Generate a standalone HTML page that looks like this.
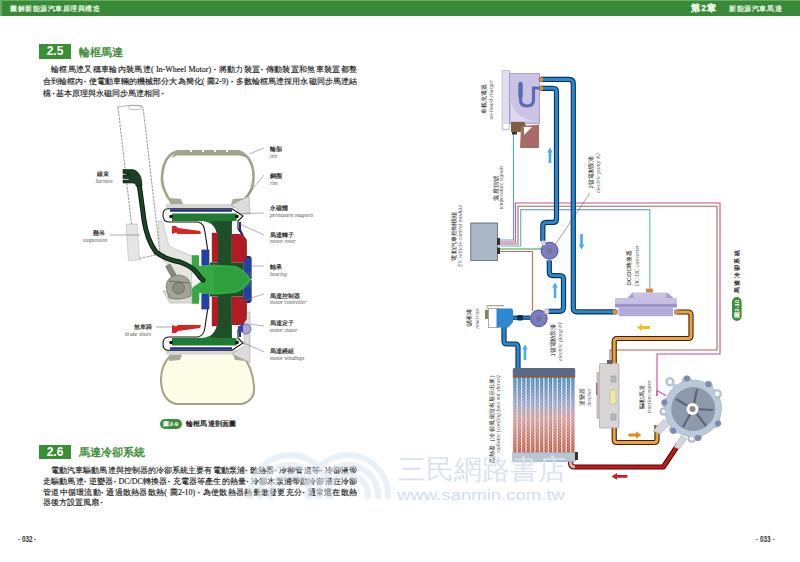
<!DOCTYPE html>
<html><head><meta charset="utf-8">
<style>
*{margin:0;padding:0;box-sizing:border-box}
html,body{width:800px;height:562px;overflow:hidden;background:#fff}
body{position:relative;font-family:"Liberation Serif",serif;color:#2a2a2a}
.abs{position:absolute;white-space:nowrap;z-index:5}
.hdr{position:absolute;left:0;top:0;width:800px;height:16.2px;background:#388a38;border-top:1px solid #6aaa68;border-left:2px solid #6aaa68}
.hl{font-family:"Liberation Sans",sans-serif;font-weight:bold;color:#e6f6e2;font-size:7.5px;letter-spacing:0.3px}
.secbox{position:absolute;background:#3a8e36;color:#fff;font-family:"Liberation Sans",sans-serif;font-weight:bold;font-size:12px;text-align:center;line-height:15px}
.sect{position:absolute;font-family:"Liberation Sans",sans-serif;font-weight:bold;color:#3f8e3a;font-size:11px;letter-spacing:0.1px;line-height:14px}
.ln{position:absolute;z-index:5;font-size:8px;line-height:10px;height:10px;text-align:justify;text-align-last:justify;white-space:nowrap;color:#1a1a1a;-webkit-text-stroke:0.15px #1a1a1a}
.pg{position:absolute;font-family:"Liberation Sans",sans-serif;font-weight:bold;font-size:7px;line-height:10px;color:#333;transform:scaleX(0.75);transform-origin:left top;z-index:5}
svg{position:absolute;left:0;top:0}
.pd{font-style:normal;display:inline-block;width:5px;text-align:center;font-weight:bold}
.pp{font-style:normal;display:inline-block;width:5px;text-align:center}
.lab{position:absolute;white-space:nowrap;font-family:"Liberation Sans",sans-serif;font-weight:bold;font-size:5.5px;line-height:6px;color:#333}
.len{position:absolute;white-space:nowrap;font-family:"Liberation Serif",serif;font-style:italic;font-size:5.5px;line-height:6px;color:#555}

</style></head>
<body>
<div class="hdr"></div>
<div class="abs hl" style="left:10px;top:4px;font-size:7px;letter-spacing:0.55px">圖解新能源汽車原理與構造</div>
<div class="abs hl" style="left:691px;top:3px;font-size:8.6px;letter-spacing:1.2px;-webkit-text-stroke:0.3px #e6f6e2">第2章</div>
<div class="abs hl" style="left:729px;top:4px;font-size:7.2px;letter-spacing:0.6px">新能源汽車馬達</div>

<div class="secbox" style="left:39px;top:44px;width:32px;height:15px">2.5</div>
<div class="sect" style="left:79px;top:45px">輪框馬達</div>

<div class="ln" style="left:51px;top:65px;width:306px">輪框馬達又稱車輪內裝馬達<i class="pp">(</i>In-Wheel Motor<i class="pp">)</i><i class="pd">·</i>將動力裝置<i class="pd">·</i>傳動裝置和煞車裝置都整</div>
<div class="ln" style="left:43px;top:77px;width:314px">合到輪框內<i class="pd">·</i>使電動車輛的機械部分大為簡化<i class="pp">(</i>圖2-9<i class="pp">)</i><i class="pd">·</i>多數輪框馬達採用永磁同步馬達結</div>
<div class="abs" style="left:43px;top:89px;font-size:8px;line-height:10px;color:#1a1a1a;-webkit-text-stroke:0.15px #1a1a1a">構<i class="pd">·</i>基本原理與永磁同步馬達相同<i class="pd">·</i></div>

<div class="secbox" style="left:39px;top:445px;width:32px;height:14px">2.6</div>
<div class="sect" style="left:79px;top:445px">馬達冷卻系統</div>

<div class="ln" style="left:51px;top:466px;width:306px">電動汽車驅動馬達與控制器的冷卻系統主要有電動泵浦<i class="pd">·</i>散熱器<i class="pd">·</i>冷卻管道等<i class="pd">·</i>冷卻液帶</div>
<div class="ln" style="left:43px;top:477px;width:314px">走驅動馬達<i class="pd">·</i>逆變器<i class="pd">·</i>DC/DC轉換器<i class="pd">·</i>充電器等產生的熱量<i class="pd">·</i>冷卻水泵浦帶動冷卻液在冷卻</div>
<div class="ln" style="left:43px;top:488px;width:314px">管道中循環流動<i class="pd">·</i>通過散熱器散熱<i class="pp">(</i>圖2-10<i class="pp">)</i><i class="pd">·</i>為使散熱器熱量散發更充分<i class="pd">·</i>通常還在散熱</div>
<div class="abs" style="left:43px;top:498px;font-size:8px;line-height:10px;color:#1a1a1a;-webkit-text-stroke:0.15px #1a1a1a">器後方設置風扇<i class="pd">·</i></div>

<div class="pg" style="left:17.5px;top:534px">-</div><div class="pg" style="left:22px;top:534px;font-size:8.5px">032</div><div class="pg" style="left:34px;top:534px">-</div>
<div class="pg" style="left:756px;top:534px">-</div><div class="pg" style="left:760px;top:534px;font-size:8.5px">033</div><div class="pg" style="left:772.5px;top:534px">-</div>

<svg width="800" height="562" viewBox="0 0 800 562" style="position:absolute;left:0;top:0">
<!-- strut -->
<g fill="none" stroke="#8a8a80" stroke-width="0.9" stroke-dasharray="2.5,1">
<path d="M118,107 L135.6,259.4 L160,254 L143,107"/>
</g>
<ellipse cx="135" cy="107.5" rx="7" ry="2.2" fill="#fff" stroke="#9a9a90" stroke-width="0.7"/>
<path d="M117,107 Q130,104 143,106" fill="none" stroke="#9a9a90" stroke-width="0.7"/>
<polygon points="126,224 137,224 139.5,260 128.5,260.5" fill="#e6e6e2" stroke="#aaa" stroke-width="0.5"/>
<polygon points="158,221 162.5,221 169,246 196,258 200,300 188,301 182,282 165,262 160,254" fill="#e4e4e0" stroke="#aaa" stroke-width="0.5"/>
<!-- leader lines left -->
<g stroke="#555" stroke-width="0.5">
<line x1="110" y1="235" x2="140" y2="235"/>
<line x1="156" y1="327" x2="176" y2="327"/>
</g>
<!-- upper tire -->
<path d="M172,203 C166,196 160,184 162.5,172 C164,160 170,153 177,151.5 L239,151.5 C247,154 253,162 253.5,175 C254,186 250,196 240,203" fill="#fff" stroke="#a2a48a" stroke-width="2.6"/>
<path d="M171,158 L177,150 L239,150 L247,158 L240,155.5 L177,155.5Z" fill="#a2a48a"/>
<g fill="#fff"><rect x="190" y="149" width="2" height="3"/><rect x="202" y="149" width="2" height="3"/><rect x="214" y="149" width="2" height="3"/><rect x="226" y="149" width="2" height="3"/></g>
<path d="M169,198 L181,199 L183,204 L170,204Z M233,199 L246,198 L247,204 L231,204Z" fill="#a8a896"/>
<!-- lower tire -->
<path d="M171,355 C162,364 160,376 161.5,386 C163,396 168,402 176,404 L242,404 C250,402 255,396 254,386 C253,374 250,364 242,355 Z" fill="#fdfce6"/>
<path d="M171,355 C162,364 160,376 161.5,386 C163,396 168,402 176,404 L242,404 C250,402 255,396 254,386 C253,374 250,364 242,355" fill="none" stroke="#a2a48a" stroke-width="2"/>
<path d="M169,354.5 L182,354.5 L180,360 L169,361Z M233,354.5 L245,354.5 L246,361 L235,360Z" fill="#a8a896"/>
<!-- rim plates -->
<rect x="166" y="204" width="80" height="4" fill="#d6d6d2"/>
<rect x="166" y="350" width="80" height="4.5" fill="#d6d6d2"/>
<path d="M231,205 L249,196 L250,214 L240,214 L236,208Z" fill="#dcdcdc" stroke="#9a9a9a" stroke-width="0.5"/>
<path d="M244,312 L250,312 L250,362.5 L232,354 L238,350 L244,346Z" fill="#dcdcdc" stroke="#9a9a9a" stroke-width="0.5"/>
<path d="M243.5,256 L250.5,256 L250.5,303 L243.5,303Z" fill="#2a4aa8"/>
<!-- motor upper half -->
<g id="mh">
<path d="M232,208.8 L168,208.8 Q163,208.8 163,215 Q163,222 169,222 L198,222 Q204,223 205,232 L208,252 L204,266" fill="none" stroke="#111" stroke-width="1.1"/>
<path d="M232,208.8 L243,216 L238,221 L238,229 L246,240 L246,256 L251,258 L251,279" fill="none" stroke="#111" stroke-width="1.1"/>
<path d="M170,210.5 L232,210.5" stroke="#1f2a8c" stroke-width="2.5"/>
<path d="M240,222 L240,230 L243,236" stroke="#1f2a8c" stroke-width="2" fill="none"/>
<path d="M172,213.6 L236.6,213.6 L236.6,220.8 L232,221 L231.6,266 L218,266 L218,238 Q216,222 202,221 L172,221 Z" fill="#1f7a32"/>
<path d="M218,221 L231.6,221 L231.6,266 L218,266 L218,238 Q216,226 210,222Z" fill="#1f4f28"/>
<circle cx="171" cy="216.5" r="1.8" fill="#111"/><circle cx="237" cy="216.5" r="1.8" fill="#111"/>
<path d="M211.8,232.8 L218,232.8 L218,262.4 L211.8,262.4Z" fill="#b01c22"/>
<path d="M231.6,234 L240,234 Q246.7,236 246.7,246 L246.7,262.4 L231.6,262.4Z" fill="#b01c22"/>
<path d="M172,226 L176,226 L178,228 L200,231 L201,234 L178,234 L176,232.5 L172,234 Z" fill="#d82424"/>
<path d="M201.4,249.6 L209.4,249.6 L209.4,265.6 L201.4,265.6Z" fill="#2040a8"/>
<path d="M243.8,259.2 L251,259.2 L251,272 L243.8,272Z" fill="#2040a8"/>
<path d="M210,262.5 L243.6,262.5 L243.6,270 L210,270Z" fill="#1f4f28"/>
</g>
<use href="#mh" transform="translate(0,559) scale(1,-1)"/>
<!-- hub -->
<path d="M191.8,255.2 L199,255.2 L199,266 L214,264.5 L236,266 Q246,270 251,279.5 Q246,289 236,293 L214,294.7 L199,293 L199,303.8 L191.8,303.8 Z" fill="#34a843"/><path d="M214,267 L236,268 Q244,272 248,279.5 Q244,287 236,291 L214,292Z" fill="#2a9a3a" opacity="0.6"/><path d="M192,272 L203,280 L192,288Z" fill="#f4f4f0"/>

<!-- motor stator small -->
<ellipse cx="246" cy="329" rx="5" ry="5" fill="#a8a6d4" stroke="#3a3a7a" stroke-width="0.6"/><rect x="238" y="326" width="5" height="6" fill="#2a4aa8"/>
<!-- harness -->
<path d="M129,174 Q138,176 140,190 Q142,205 144,220 Q147,240 156,252 Q164,259 180,262 Q193,267 197,273 Q200,278 203,280" fill="none" stroke="#0b170e" stroke-width="5" stroke-linecap="round"/>
<path d="M129,174 Q138,176 140,190 Q142,205 144,220 Q147,240 156,252 Q164,259 180,262 Q193,267 197,273 Q200,278 203,280" fill="none" stroke="#1d4628" stroke-width="3" stroke-linecap="round"/>
<path d="M123,169.5 L133,169.5 Q142,172 142,186 L136,186 Q136,183 133,183 L123,183 L123,180 L129,180 L129,178.5 L123,178.5 L123,175 L129,175 L129,173.5 L123,173.5Z" fill="#1a3f24" stroke="#0b170e" stroke-width="0.6"/>
<!-- ball joint -->
<path d="M163,291 L192,291 L192,303 L170,303Z" fill="#dddcd4" stroke="#999" stroke-width="0.5"/>
<path d="M165.5,266.5 L170,264 L176,274.5 L171.5,277Z" fill="#8a8a80" stroke="#555" stroke-width="0.5"/>
<path d="M166,287 Q167,275 179,275 Q190,276 191,287 L191,296 Q180,301 169,298 Z" fill="#a3a398" stroke="#5a5a52" stroke-width="0.6"/>
<circle cx="178.5" cy="288" r="6" fill="#8c8c84" stroke="#55554e" stroke-width="0.6"/>
<path d="M169,281 L189,283" stroke="#55554e" stroke-width="0.7"/>
<!-- leader lines right -->
<g stroke="#666" stroke-width="0.5" fill="none">
<line x1="249" y1="154" x2="264" y2="148"/>
<line x1="246" y1="197" x2="264" y2="175"/>
<line x1="241" y1="213.5" x2="264" y2="213"/>
<line x1="240" y1="224" x2="264" y2="235"/>
<line x1="250" y1="266" x2="264" y2="266"/>
<line x1="238" y1="302" x2="264" y2="294"/>
<line x1="250" y1="324" x2="264" y2="326"/>
<line x1="237" y1="340" x2="264" y2="352"/>
</g>
</svg>
<div class="lab" style="left:97px;top:170.5px">線束</div><div class="len" style="left:95.5px;top:177.5px">harness</div>
<div class="lab" style="left:93px;top:230px">懸吊</div><div class="len" style="left:83px;top:237px">suspension</div>
<div class="lab" style="left:134px;top:324px">煞車蹄</div><div class="len" style="left:125px;top:330.5px">brake shoes</div>
<div class="lab" style="left:270px;top:146px">輪胎</div><div class="len" style="left:270px;top:152.5px">tire</div>
<div class="lab" style="left:270px;top:173px">鋼圈</div><div class="len" style="left:270px;top:180px">rim</div>
<div class="lab" style="left:270px;top:205px">永磁體</div><div class="len" style="left:270px;top:212px">permanent magnets</div>
<div class="lab" style="left:270px;top:231.5px">馬達轉子</div><div class="len" style="left:270px;top:238px">motor rotor</div>
<div class="lab" style="left:270px;top:264px">軸承</div><div class="len" style="left:270px;top:271px">bearing</div>
<div class="lab" style="left:270px;top:292.5px">馬達控制器</div><div class="len" style="left:270px;top:298.5px">motor controller</div>
<div class="lab" style="left:270px;top:320px">馬達定子</div><div class="len" style="left:270px;top:326.5px">motor stator</div>
<div class="lab" style="left:270px;top:348px">馬達繞組</div><div class="len" style="left:270px;top:355px">motor windings</div>
<div class="abs" style="left:159.5px;top:419px;width:22.5px;height:10px;border-radius:5px;background:#3c8f3c;color:#fff;font-family:'Liberation Sans',sans-serif;font-weight:bold;font-size:6px;line-height:10px;text-align:center">圖2-9</div>
<div class="abs" style="left:186px;top:419px;font-family:'Liberation Sans',sans-serif;font-weight:bold;font-size:7px;line-height:10px;color:#222;letter-spacing:0.2px">輪框馬達剖面圖</div>
<svg width="800" height="562" viewBox="0 0 800 562" style="position:absolute;left:0;top:0">
<!-- signal lines -->
<g fill="none" stroke-width="1.1">
<path d="M513.5,132 L513.5,240 L499,240" stroke="#4aa6e0"/>
<path d="M499,242 L515.4,242 L515.4,203 L720,203 L720,354 L657,354 L657,396" stroke="#d24a92"/>
<path d="M499,244 L518,244 L518,206.2 L717,206.2 L717,350 L610,350 L610,363" stroke="#a86a5a"/>
<path d="M499,246 L520.7,246 L520.7,209.6 L649.8,209.6 L649.8,290" stroke="#5ab8c0"/>
<path d="M499,249 L541,249" stroke="#3a9a4a"/>
<path d="M499,251.5 L532.5,251.5 L532.5,311" stroke="#c86650"/>
</g>
<!-- module -->
<rect x="470.8" y="223" width="26.6" height="37.5" fill="#a9b6c6" stroke="#56606c" stroke-width="0.8"/>
<rect x="497" y="238" width="3" height="7" fill="#333"/><rect x="497" y="247.5" width="3" height="6.5" fill="#333"/>
<!-- blue pipes -->
<g fill="none" stroke-linejoin="round">
<g stroke="#0b2f58" stroke-width="5.2">
<path d="M541,79.4 L569,79.4 Q573.3,79.4 573.3,84 L573.3,308 Q573.3,311.8 577,311.8 L616,311.8"/>
<path d="M541,88.3 L553,88.3 Q556.5,88.3 556.5,92 L556.5,219 Q556.5,222.4 553,222.4 L546.5,222.4 Q542.8,222.4 542.8,226 L542.8,241"/>
<path d="M549.3,260.5 L549.3,272 Q549.3,275.6 553,275.6 L559.8,275.6 Q563.5,275.6 563.5,279 L563.5,307.5 Q563.5,311.3 559.5,311.3 L548,311.3"/>

<path d="M504,326 L504,341 Q504,344 507,344 L515,344 Q518,344 518,347 L518,369"/>
</g>
<g stroke="#2a88cc" stroke-width="3">
<path d="M541,79.4 L569,79.4 Q573.3,79.4 573.3,84 L573.3,308 Q573.3,311.8 577,311.8 L616,311.8"/>
<path d="M541,88.3 L553,88.3 Q556.5,88.3 556.5,92 L556.5,219 Q556.5,222.4 553,222.4 L546.5,222.4 Q542.8,222.4 542.8,226 L542.8,241"/>
<path d="M549.3,260.5 L549.3,272 Q549.3,275.6 553,275.6 L559.8,275.6 Q563.5,275.6 563.5,279 L563.5,307.5 Q563.5,311.3 559.5,311.3 L548,311.3"/>

<path d="M504,326 L504,341 Q504,344 507,344 L515,344 Q518,344 518,347 L518,369"/>
</g>
<!-- orange pipes -->
<g stroke="#3a2208" stroke-width="5.2">
<path d="M676,312 L688,312 Q691,312 691,315 L691,335.5 Q691,338.5 688,338.5 L617,338.5 Q614.2,338.5 614.2,341.5 L614.2,363"/>
<path d="M614.2,427 L614.2,439.5 Q614.2,442.5 617,442.5 L654,442.5 Q657,442.5 657,439.5 L657,425"/>
</g>
<g stroke="#f0a040" stroke-width="3">
<path d="M676,312 L688,312 Q691,312 691,315 L691,335.5 Q691,338.5 688,338.5 L617,338.5 Q614.2,338.5 614.2,341.5 L614.2,363"/>
<path d="M614.2,427 L614.2,439.5 Q614.2,442.5 617,442.5 L654,442.5 Q657,442.5 657,439.5 L657,425"/>
</g>
<!-- red pipe -->
<path d="M570.6,456 L570.6,463 Q570.6,467 574.5,467 L663.3,467 L678,445" stroke="#4a0808" stroke-width="5.2"/>
<path d="M575,467 L663.3,467 L678,445" stroke="#c41a1a" stroke-width="3"/>
<path d="M570.6,455 L570.6,463 Q570.6,467 575,467" stroke="#e8a8a8" stroke-width="3.2"/>
</g>
<!-- arrows -->
<g fill="#46aee8"><path d="M548.7,163 L548.7,152.5 L547.2,152.5 L550,147.5 L552.8,152.5 L551.3,152.5 L551.3,163Z"/><path d="M580.2,234 L580.2,244.5 L578.7,244.5 L581.5,249.5 L584.3,244.5 L582.8,244.5 L582.8,234Z"/><path d="M553.7,298 L553.7,287.5 L552.2,287.5 L555,282.5 L557.8,287.5 L556.3,287.5 L556.3,298Z"/><path d="M523.7,360 L523.7,349.5 L522.2,349.5 L525,344.5 L527.8,349.5 L526.3,349.5 L526.3,360Z"/></g>
<path d="M650,326 L642,326 L642,324 L637,327.5 L642,331 L642,329 L650,329Z" fill="#f2c21a"/>
<path d="M628.5,433.5 L636,433.5 L636,431.5 L641.5,435 L636,438.5 L636,436.5 L628.5,436.5Z" fill="#f0821a"/>
<path d="M627.4,475 L617,475 L617,473 L611.5,476.4 L617,479.8 L617,477.8 L627.4,477.8Z" fill="#d41a1a"/>
<!-- charger -->
<rect x="502" y="70.3" width="7.5" height="59.7" fill="#e2dcef" stroke="#b4aacd" stroke-width="0.6"/>
<rect x="503.5" y="124" width="5" height="4.5" fill="#fff"/>
<rect x="509.5" y="73.5" width="30" height="50.2" fill="#cbc3e4" stroke="#9c92c4" stroke-width="0.8"/>
<path d="M511,100 Q514,118 535,121 L511,121Z" fill="#ddd8ee"/>
<path d="M520.5,86 L520.5,100 Q520.5,106 527,106 Q533.5,106 533.5,100 L533.5,88 L538,88" fill="none" stroke="#5a6ab6" stroke-width="3.2" stroke-linecap="round"/>
<path d="M520.5,84 L520.5,96" stroke="#5a6ab6" stroke-width="4.4" stroke-linecap="round"/>
<path d="M511,122 L524,122 Q526,124 526,128 L524,132 L511,132 Z" fill="#7e6040"/>
<rect x="512" y="132" width="5" height="2.5" fill="#333"/>
<path d="M521,126 L539,124.7 L539,148 L520,148Z" fill="#a96b66"/>
<path d="M524,135 L532,127 L524,127Z" fill="#fff"/>
<circle cx="541.5" cy="79.4" r="2.4" fill="#c8925a" stroke="#5a3a1a" stroke-width="0.5"/><circle cx="541.5" cy="88.3" r="2.4" fill="#c8925a" stroke="#5a3a1a" stroke-width="0.5"/>
<!-- pumps -->
<g stroke="#3c3f7a" stroke-width="0.8">
<circle cx="549.6" cy="250.7" r="8.5" fill="#7c7cc0"/>
<circle cx="538.8" cy="318.4" r="8.4" fill="#7c7cc0"/>
</g>
<circle cx="549.6" cy="250.7" r="2.2" fill="#9a9aa8" stroke="#555" stroke-width="0.6"/><circle cx="549.6" cy="250.7" r="0.8" fill="#222"/>
<circle cx="538.8" cy="318.4" r="2.2" fill="#9a9aa8" stroke="#555" stroke-width="0.6"/><circle cx="538.8" cy="318.4" r="0.8" fill="#222"/>
<path d="M541,240.5 L545,240.5 L546,245 L543,246Z" fill="#dcd6ee" stroke="#777" stroke-width="0.4"/>
<path d="M545,309 L549,309 L549,313.5 L544,314Z" fill="#dcd6ee" stroke="#777" stroke-width="0.4"/>
<line x1="555" y1="245" x2="590" y2="193" stroke="#444" stroke-width="0.5"/>
<!-- reservoir -->
<rect x="488.4" y="308.5" width="10" height="19" fill="#fff" stroke="#8a8a80" stroke-width="0.7"/>
<path d="M496.5,308.5 L511,308.5 Q513.1,308.5 513.1,311 L513.1,322 L508.5,327.6 L496.5,327.6Z" fill="#2f86d2"/>
<path d="M487,305.7 L504,305.7" stroke="#9a8e70" stroke-width="1"/><path d="M487,305.7 L487,309" stroke="#9a8e70" stroke-width="0.8"/>
<rect x="485" y="310" width="3.2" height="9" fill="#8a8050"/>
<path d="M513,317.7 L530,317.7" stroke="#0b2f58" stroke-width="4.2"/>
<path d="M513,317.7 L530,317.7" stroke="#2a88cc" stroke-width="2"/>
<rect x="517" y="315" width="6" height="5.4" rx="1.5" fill="#0b2f58"/>
<!-- radiator -->
<rect x="512.8" y="377" width="62.4" height="75.5" fill="#fff"/>
<defs>
<linearGradient id="fin" x1="0" y1="0" x2="0" y2="1">
<stop offset="0" stop-color="#2a7ab8"/><stop offset="0.45" stop-color="#8a7aa0"/><stop offset="1" stop-color="#c8503a"/>
</linearGradient>
<pattern id="fins" x="512.8" y="0" width="4.45" height="562" patternUnits="userSpaceOnUse">
<rect x="0.6" y="0" width="2.6" height="562" fill="url(#fin)"/>
</pattern>
<linearGradient id="fin2" x1="0" y1="377" x2="0" y2="452.5" gradientUnits="userSpaceOnUse">
<stop offset="0" stop-color="#2f78b0"/><stop offset="0.35" stop-color="#8a98be"/><stop offset="0.55" stop-color="#cc9290"/><stop offset="1" stop-color="#b84830"/>
</linearGradient>
</defs>
<linearGradient id="bgfin" x1="0" y1="377" x2="0" y2="452.5" gradientUnits="userSpaceOnUse"><stop offset="0" stop-color="#dbe8f2"/><stop offset="0.5" stop-color="#ece4ea"/><stop offset="1" stop-color="#f2dcd4"/></linearGradient>
<rect x="512.8" y="377" width="62.4" height="75.5" fill="url(#bgfin)"/>
<g id="finsg" fill="url(#fin2)"><rect x="513.40" y="377" width="3" height="75.5"/><rect x="517.86" y="377" width="3" height="75.5"/><rect x="522.31" y="377" width="3" height="75.5"/><rect x="526.77" y="377" width="3" height="75.5"/><rect x="531.23" y="377" width="3" height="75.5"/><rect x="535.69" y="377" width="3" height="75.5"/><rect x="540.14" y="377" width="3" height="75.5"/><rect x="544.60" y="377" width="3" height="75.5"/><rect x="549.06" y="377" width="3" height="75.5"/><rect x="553.51" y="377" width="3" height="75.5"/><rect x="557.97" y="377" width="3" height="75.5"/><rect x="562.43" y="377" width="3" height="75.5"/><rect x="566.89" y="377" width="3" height="75.5"/><rect x="571.34" y="377" width="3" height="75.5"/></g><g fill="none" stroke="#fff" stroke-width="0.6" opacity="0.6"><path d="M513.90,377 L515.90,378.5 L513.90,380.0 L515.90,381.5 L513.90,383.0 L515.90,384.5 L513.90,386.0 L515.90,387.5 L513.90,389.0 L515.90,390.5 L513.90,392.0 L515.90,393.5 L513.90,395.0 L515.90,396.5 L513.90,398.0 L515.90,399.5 L513.90,401.0 L515.90,402.5 L513.90,404.0 L515.90,405.5 L513.90,407.0 L515.90,408.5 L513.90,410.0 L515.90,411.5 L513.90,413.0 L515.90,414.5 L513.90,416.0 L515.90,417.5 L513.90,419.0 L515.90,420.5 L513.90,422.0 L515.90,423.5 L513.90,425.0 L515.90,426.5 L513.90,428.0 L515.90,429.5 L513.90,431.0 L515.90,432.5 L513.90,434.0 L515.90,435.5 L513.90,437.0 L515.90,438.5 L513.90,440.0 L515.90,441.5 L513.90,443.0 L515.90,444.5 L513.90,446.0 L515.90,447.5 L513.90,449.0 L515.90,450.5 L513.90,452.0"/><path d="M518.36,377 L520.36,378.5 L518.36,380.0 L520.36,381.5 L518.36,383.0 L520.36,384.5 L518.36,386.0 L520.36,387.5 L518.36,389.0 L520.36,390.5 L518.36,392.0 L520.36,393.5 L518.36,395.0 L520.36,396.5 L518.36,398.0 L520.36,399.5 L518.36,401.0 L520.36,402.5 L518.36,404.0 L520.36,405.5 L518.36,407.0 L520.36,408.5 L518.36,410.0 L520.36,411.5 L518.36,413.0 L520.36,414.5 L518.36,416.0 L520.36,417.5 L518.36,419.0 L520.36,420.5 L518.36,422.0 L520.36,423.5 L518.36,425.0 L520.36,426.5 L518.36,428.0 L520.36,429.5 L518.36,431.0 L520.36,432.5 L518.36,434.0 L520.36,435.5 L518.36,437.0 L520.36,438.5 L518.36,440.0 L520.36,441.5 L518.36,443.0 L520.36,444.5 L518.36,446.0 L520.36,447.5 L518.36,449.0 L520.36,450.5 L518.36,452.0"/><path d="M522.81,377 L524.81,378.5 L522.81,380.0 L524.81,381.5 L522.81,383.0 L524.81,384.5 L522.81,386.0 L524.81,387.5 L522.81,389.0 L524.81,390.5 L522.81,392.0 L524.81,393.5 L522.81,395.0 L524.81,396.5 L522.81,398.0 L524.81,399.5 L522.81,401.0 L524.81,402.5 L522.81,404.0 L524.81,405.5 L522.81,407.0 L524.81,408.5 L522.81,410.0 L524.81,411.5 L522.81,413.0 L524.81,414.5 L522.81,416.0 L524.81,417.5 L522.81,419.0 L524.81,420.5 L522.81,422.0 L524.81,423.5 L522.81,425.0 L524.81,426.5 L522.81,428.0 L524.81,429.5 L522.81,431.0 L524.81,432.5 L522.81,434.0 L524.81,435.5 L522.81,437.0 L524.81,438.5 L522.81,440.0 L524.81,441.5 L522.81,443.0 L524.81,444.5 L522.81,446.0 L524.81,447.5 L522.81,449.0 L524.81,450.5 L522.81,452.0"/><path d="M527.27,377 L529.27,378.5 L527.27,380.0 L529.27,381.5 L527.27,383.0 L529.27,384.5 L527.27,386.0 L529.27,387.5 L527.27,389.0 L529.27,390.5 L527.27,392.0 L529.27,393.5 L527.27,395.0 L529.27,396.5 L527.27,398.0 L529.27,399.5 L527.27,401.0 L529.27,402.5 L527.27,404.0 L529.27,405.5 L527.27,407.0 L529.27,408.5 L527.27,410.0 L529.27,411.5 L527.27,413.0 L529.27,414.5 L527.27,416.0 L529.27,417.5 L527.27,419.0 L529.27,420.5 L527.27,422.0 L529.27,423.5 L527.27,425.0 L529.27,426.5 L527.27,428.0 L529.27,429.5 L527.27,431.0 L529.27,432.5 L527.27,434.0 L529.27,435.5 L527.27,437.0 L529.27,438.5 L527.27,440.0 L529.27,441.5 L527.27,443.0 L529.27,444.5 L527.27,446.0 L529.27,447.5 L527.27,449.0 L529.27,450.5 L527.27,452.0"/><path d="M531.73,377 L533.73,378.5 L531.73,380.0 L533.73,381.5 L531.73,383.0 L533.73,384.5 L531.73,386.0 L533.73,387.5 L531.73,389.0 L533.73,390.5 L531.73,392.0 L533.73,393.5 L531.73,395.0 L533.73,396.5 L531.73,398.0 L533.73,399.5 L531.73,401.0 L533.73,402.5 L531.73,404.0 L533.73,405.5 L531.73,407.0 L533.73,408.5 L531.73,410.0 L533.73,411.5 L531.73,413.0 L533.73,414.5 L531.73,416.0 L533.73,417.5 L531.73,419.0 L533.73,420.5 L531.73,422.0 L533.73,423.5 L531.73,425.0 L533.73,426.5 L531.73,428.0 L533.73,429.5 L531.73,431.0 L533.73,432.5 L531.73,434.0 L533.73,435.5 L531.73,437.0 L533.73,438.5 L531.73,440.0 L533.73,441.5 L531.73,443.0 L533.73,444.5 L531.73,446.0 L533.73,447.5 L531.73,449.0 L533.73,450.5 L531.73,452.0"/><path d="M536.19,377 L538.19,378.5 L536.19,380.0 L538.19,381.5 L536.19,383.0 L538.19,384.5 L536.19,386.0 L538.19,387.5 L536.19,389.0 L538.19,390.5 L536.19,392.0 L538.19,393.5 L536.19,395.0 L538.19,396.5 L536.19,398.0 L538.19,399.5 L536.19,401.0 L538.19,402.5 L536.19,404.0 L538.19,405.5 L536.19,407.0 L538.19,408.5 L536.19,410.0 L538.19,411.5 L536.19,413.0 L538.19,414.5 L536.19,416.0 L538.19,417.5 L536.19,419.0 L538.19,420.5 L536.19,422.0 L538.19,423.5 L536.19,425.0 L538.19,426.5 L536.19,428.0 L538.19,429.5 L536.19,431.0 L538.19,432.5 L536.19,434.0 L538.19,435.5 L536.19,437.0 L538.19,438.5 L536.19,440.0 L538.19,441.5 L536.19,443.0 L538.19,444.5 L536.19,446.0 L538.19,447.5 L536.19,449.0 L538.19,450.5 L536.19,452.0"/><path d="M540.64,377 L542.64,378.5 L540.64,380.0 L542.64,381.5 L540.64,383.0 L542.64,384.5 L540.64,386.0 L542.64,387.5 L540.64,389.0 L542.64,390.5 L540.64,392.0 L542.64,393.5 L540.64,395.0 L542.64,396.5 L540.64,398.0 L542.64,399.5 L540.64,401.0 L542.64,402.5 L540.64,404.0 L542.64,405.5 L540.64,407.0 L542.64,408.5 L540.64,410.0 L542.64,411.5 L540.64,413.0 L542.64,414.5 L540.64,416.0 L542.64,417.5 L540.64,419.0 L542.64,420.5 L540.64,422.0 L542.64,423.5 L540.64,425.0 L542.64,426.5 L540.64,428.0 L542.64,429.5 L540.64,431.0 L542.64,432.5 L540.64,434.0 L542.64,435.5 L540.64,437.0 L542.64,438.5 L540.64,440.0 L542.64,441.5 L540.64,443.0 L542.64,444.5 L540.64,446.0 L542.64,447.5 L540.64,449.0 L542.64,450.5 L540.64,452.0"/><path d="M545.10,377 L547.10,378.5 L545.10,380.0 L547.10,381.5 L545.10,383.0 L547.10,384.5 L545.10,386.0 L547.10,387.5 L545.10,389.0 L547.10,390.5 L545.10,392.0 L547.10,393.5 L545.10,395.0 L547.10,396.5 L545.10,398.0 L547.10,399.5 L545.10,401.0 L547.10,402.5 L545.10,404.0 L547.10,405.5 L545.10,407.0 L547.10,408.5 L545.10,410.0 L547.10,411.5 L545.10,413.0 L547.10,414.5 L545.10,416.0 L547.10,417.5 L545.10,419.0 L547.10,420.5 L545.10,422.0 L547.10,423.5 L545.10,425.0 L547.10,426.5 L545.10,428.0 L547.10,429.5 L545.10,431.0 L547.10,432.5 L545.10,434.0 L547.10,435.5 L545.10,437.0 L547.10,438.5 L545.10,440.0 L547.10,441.5 L545.10,443.0 L547.10,444.5 L545.10,446.0 L547.10,447.5 L545.10,449.0 L547.10,450.5 L545.10,452.0"/><path d="M549.56,377 L551.56,378.5 L549.56,380.0 L551.56,381.5 L549.56,383.0 L551.56,384.5 L549.56,386.0 L551.56,387.5 L549.56,389.0 L551.56,390.5 L549.56,392.0 L551.56,393.5 L549.56,395.0 L551.56,396.5 L549.56,398.0 L551.56,399.5 L549.56,401.0 L551.56,402.5 L549.56,404.0 L551.56,405.5 L549.56,407.0 L551.56,408.5 L549.56,410.0 L551.56,411.5 L549.56,413.0 L551.56,414.5 L549.56,416.0 L551.56,417.5 L549.56,419.0 L551.56,420.5 L549.56,422.0 L551.56,423.5 L549.56,425.0 L551.56,426.5 L549.56,428.0 L551.56,429.5 L549.56,431.0 L551.56,432.5 L549.56,434.0 L551.56,435.5 L549.56,437.0 L551.56,438.5 L549.56,440.0 L551.56,441.5 L549.56,443.0 L551.56,444.5 L549.56,446.0 L551.56,447.5 L549.56,449.0 L551.56,450.5 L549.56,452.0"/><path d="M554.01,377 L556.01,378.5 L554.01,380.0 L556.01,381.5 L554.01,383.0 L556.01,384.5 L554.01,386.0 L556.01,387.5 L554.01,389.0 L556.01,390.5 L554.01,392.0 L556.01,393.5 L554.01,395.0 L556.01,396.5 L554.01,398.0 L556.01,399.5 L554.01,401.0 L556.01,402.5 L554.01,404.0 L556.01,405.5 L554.01,407.0 L556.01,408.5 L554.01,410.0 L556.01,411.5 L554.01,413.0 L556.01,414.5 L554.01,416.0 L556.01,417.5 L554.01,419.0 L556.01,420.5 L554.01,422.0 L556.01,423.5 L554.01,425.0 L556.01,426.5 L554.01,428.0 L556.01,429.5 L554.01,431.0 L556.01,432.5 L554.01,434.0 L556.01,435.5 L554.01,437.0 L556.01,438.5 L554.01,440.0 L556.01,441.5 L554.01,443.0 L556.01,444.5 L554.01,446.0 L556.01,447.5 L554.01,449.0 L556.01,450.5 L554.01,452.0"/><path d="M558.47,377 L560.47,378.5 L558.47,380.0 L560.47,381.5 L558.47,383.0 L560.47,384.5 L558.47,386.0 L560.47,387.5 L558.47,389.0 L560.47,390.5 L558.47,392.0 L560.47,393.5 L558.47,395.0 L560.47,396.5 L558.47,398.0 L560.47,399.5 L558.47,401.0 L560.47,402.5 L558.47,404.0 L560.47,405.5 L558.47,407.0 L560.47,408.5 L558.47,410.0 L560.47,411.5 L558.47,413.0 L560.47,414.5 L558.47,416.0 L560.47,417.5 L558.47,419.0 L560.47,420.5 L558.47,422.0 L560.47,423.5 L558.47,425.0 L560.47,426.5 L558.47,428.0 L560.47,429.5 L558.47,431.0 L560.47,432.5 L558.47,434.0 L560.47,435.5 L558.47,437.0 L560.47,438.5 L558.47,440.0 L560.47,441.5 L558.47,443.0 L560.47,444.5 L558.47,446.0 L560.47,447.5 L558.47,449.0 L560.47,450.5 L558.47,452.0"/><path d="M562.93,377 L564.93,378.5 L562.93,380.0 L564.93,381.5 L562.93,383.0 L564.93,384.5 L562.93,386.0 L564.93,387.5 L562.93,389.0 L564.93,390.5 L562.93,392.0 L564.93,393.5 L562.93,395.0 L564.93,396.5 L562.93,398.0 L564.93,399.5 L562.93,401.0 L564.93,402.5 L562.93,404.0 L564.93,405.5 L562.93,407.0 L564.93,408.5 L562.93,410.0 L564.93,411.5 L562.93,413.0 L564.93,414.5 L562.93,416.0 L564.93,417.5 L562.93,419.0 L564.93,420.5 L562.93,422.0 L564.93,423.5 L562.93,425.0 L564.93,426.5 L562.93,428.0 L564.93,429.5 L562.93,431.0 L564.93,432.5 L562.93,434.0 L564.93,435.5 L562.93,437.0 L564.93,438.5 L562.93,440.0 L564.93,441.5 L562.93,443.0 L564.93,444.5 L562.93,446.0 L564.93,447.5 L562.93,449.0 L564.93,450.5 L562.93,452.0"/><path d="M567.39,377 L569.39,378.5 L567.39,380.0 L569.39,381.5 L567.39,383.0 L569.39,384.5 L567.39,386.0 L569.39,387.5 L567.39,389.0 L569.39,390.5 L567.39,392.0 L569.39,393.5 L567.39,395.0 L569.39,396.5 L567.39,398.0 L569.39,399.5 L567.39,401.0 L569.39,402.5 L567.39,404.0 L569.39,405.5 L567.39,407.0 L569.39,408.5 L567.39,410.0 L569.39,411.5 L567.39,413.0 L569.39,414.5 L567.39,416.0 L569.39,417.5 L567.39,419.0 L569.39,420.5 L567.39,422.0 L569.39,423.5 L567.39,425.0 L569.39,426.5 L567.39,428.0 L569.39,429.5 L567.39,431.0 L569.39,432.5 L567.39,434.0 L569.39,435.5 L567.39,437.0 L569.39,438.5 L567.39,440.0 L569.39,441.5 L567.39,443.0 L569.39,444.5 L567.39,446.0 L569.39,447.5 L567.39,449.0 L569.39,450.5 L567.39,452.0"/><path d="M571.84,377 L573.84,378.5 L571.84,380.0 L573.84,381.5 L571.84,383.0 L573.84,384.5 L571.84,386.0 L573.84,387.5 L571.84,389.0 L573.84,390.5 L571.84,392.0 L573.84,393.5 L571.84,395.0 L573.84,396.5 L571.84,398.0 L573.84,399.5 L571.84,401.0 L573.84,402.5 L571.84,404.0 L573.84,405.5 L571.84,407.0 L573.84,408.5 L571.84,410.0 L573.84,411.5 L571.84,413.0 L573.84,414.5 L571.84,416.0 L573.84,417.5 L571.84,419.0 L573.84,420.5 L571.84,422.0 L573.84,423.5 L571.84,425.0 L573.84,426.5 L571.84,428.0 L573.84,429.5 L571.84,431.0 L573.84,432.5 L571.84,434.0 L573.84,435.5 L571.84,437.0 L573.84,438.5 L571.84,440.0 L573.84,441.5 L571.84,443.0 L573.84,444.5 L571.84,446.0 L573.84,447.5 L571.84,449.0 L573.84,450.5 L571.84,452.0"/></g>
<rect x="512.8" y="368" width="62.4" height="9.3" fill="#5a6a82" rx="1.5"/>
<rect x="512.8" y="376" width="62.4" height="1.5" fill="#8a5a3a"/>
<rect x="512.8" y="452.5" width="62.4" height="9.2" fill="#b9c5d5" stroke="#8a96a8" stroke-width="0.5"/>
<rect x="575" y="452" width="3" height="8" fill="#333"/>
<!-- DC/DC -->
<path d="M626.9,298.8 L632.5,292.5 L666.9,292.5 L674.4,298.8Z" fill="#cac2e6"/>
<path d="M626.9,298.8 L632.5,292.5 L634,298.8Z M674.4,298.8 L666.9,292.5 L666,298.8Z" fill="#a89ed4"/>
<rect x="615" y="298" width="61.9" height="5.8" fill="#c8c0e4" rx="0.8"/>
<rect x="615" y="303.7" width="61.9" height="3.8" fill="#9c92c8"/>
<rect x="618.7" y="307.5" width="54.3" height="8.8" fill="#b2aad8"/>
<rect x="646" y="288.7" width="7" height="3.8" fill="#d8843a"/>
<rect x="613" y="309.5" width="5" height="5" fill="#c8925a"/><rect x="674" y="309.5" width="5" height="5" fill="#c8925a"/>
<!-- inverter -->
<rect x="599.5" y="363.5" width="19.5" height="64.5" fill="#d9d5d5" stroke="#9a9696" stroke-width="0.6" rx="1"/>
<rect x="596.5" y="372" width="3" height="47" fill="#c4bcbc"/>
<rect x="596" y="383" width="1.5" height="12" fill="#a06a9a"/>
<rect x="611" y="376" width="5" height="6" fill="#b8b8c8" stroke="#777" stroke-width="0.4"/>
<rect x="611" y="414" width="5" height="6" fill="#b8b8c8" stroke="#777" stroke-width="0.4"/>
<rect x="610" y="390" width="6" height="14" fill="#f2eaa0" stroke="#999" stroke-width="0.4"/>
<rect x="607" y="360" width="5" height="4" fill="#666"/>
<!-- motor -->
<path d="M653,431 L664,419 L670,424 L660,434Z" fill="#d2d6dc" stroke="#a0a4aa" stroke-width="0.5"/>
<path d="M674,447 L681,436 L687,439 L679,449Z" fill="#d2d6dc" stroke="#a0a4aa" stroke-width="0.5"/>
<g fill="#b9c9d9" stroke="#8c9cb0" stroke-width="0.5">
<circle cx="686.9" cy="380.6" r="4.5"/><circle cx="708" cy="386" r="4.5"/><circle cx="716" cy="423" r="4.5"/><circle cx="697.5" cy="436" r="4.5"/><circle cx="674" cy="429" r="4.5"/><circle cx="666.5" cy="403" r="4.5"/><circle cx="693" cy="408.5" r="28.5"/>
<circle cx="670" cy="381.8" r="4.2"/><circle cx="717.3" cy="393.8" r="4.2"/><circle cx="663.6" cy="411.5" r="3.8"/><circle cx="691.7" cy="438.7" r="3.8"/><path d="M670,382 L680,386 L676,392Z M717,394 L712,390 L713,400Z M664,411 L668,405 L668,416Z M692,438 L686,434 L697,434Z" stroke="none"/>
</g>
<g fill="#fff"><circle cx="670" cy="381.8" r="2.2"/><circle cx="717.3" cy="393.8" r="2.2"/><circle cx="663.6" cy="411.5" r="1.8"/><circle cx="691.7" cy="438.7" r="1.8"/></g>
<g fill="#7e86b2">
<circle cx="686.9" cy="378.6" r="3"/><circle cx="708.5" cy="384.2" r="3"/><circle cx="718" cy="423.5" r="3"/><circle cx="698" cy="437.9" r="3"/><circle cx="673.2" cy="430.7" r="3"/><circle cx="664.4" cy="402.6" r="3"/>
</g>
<path d="M656.7,396 L657,390.6 L666,395.4" fill="none" stroke="#d24a92" stroke-width="1.1"/>
<circle cx="693.2" cy="409" r="21.5" fill="#8e9aac" stroke="#7a8698" stroke-width="0.6"/>
<g stroke="#5c6676" stroke-width="2.2">
<line x1="693" y1="409" x2="697" y2="389"/><line x1="693" y1="409" x2="713" y2="410"/><line x1="693" y1="409" x2="706" y2="426"/><line x1="693" y1="409" x2="683" y2="427"/><line x1="693" y1="409" x2="676" y2="399"/>
</g>
<circle cx="692.5" cy="409" r="6" fill="#fff"/>
<circle cx="692.5" cy="409" r="3" fill="#8a8a8a"/>
<!-- figure label -->
<rect x="732" y="297" width="9.6" height="24" rx="4.8" fill="#3c8f3c"/>
<text transform="translate(485.5,99) rotate(-90)" text-anchor="middle" font-size="6" textLength="30" lengthAdjust="spacingAndGlyphs" font-family="Liberation Sans" fill="#151515">車載充電器</text>
<text transform="translate(492.5,99.8) rotate(-90)" text-anchor="middle" font-size="5.5" textLength="39.5" lengthAdjust="spacingAndGlyphs" font-family="Liberation Serif" font-style="italic" fill="#5a5a5a">on-board charger</text>
<text transform="translate(497.8,188) rotate(-90)" text-anchor="middle" font-size="6" textLength="25.6" lengthAdjust="spacingAndGlyphs" font-family="Liberation Sans" fill="#151515">溫度信號</text>
<text transform="translate(503.3,187.5) rotate(-90)" text-anchor="middle" font-size="5.5" textLength="43.7" lengthAdjust="spacingAndGlyphs" font-family="Liberation Serif" font-style="italic" fill="#5a5a5a">temperature signals</text>
<text transform="translate(455.5,236) rotate(-90)" text-anchor="middle" font-size="6" textLength="49" lengthAdjust="spacingAndGlyphs" font-family="Liberation Sans" fill="#151515">電動汽車控制模組</text>
<text transform="translate(461.8,236) rotate(-90)" text-anchor="middle" font-size="5.5" textLength="62" lengthAdjust="spacingAndGlyphs" font-family="Liberation Serif" font-style="italic" fill="#5a5a5a">EV vehicle control module</text>
<text transform="translate(593.2,172.1) rotate(-90)" text-anchor="middle" font-size="6" textLength="32.7" lengthAdjust="spacingAndGlyphs" font-family="Liberation Sans" fill="#151515">2號電動泵浦</text>
<text transform="translate(600,173) rotate(-90)" text-anchor="middle" font-size="5.5" textLength="40" lengthAdjust="spacingAndGlyphs" font-family="Liberation Serif" font-style="italic" fill="#5a5a5a">electric pump #2</text>
<text transform="translate(471.3,318.4) rotate(-90)" text-anchor="middle" font-size="6" textLength="18.2" lengthAdjust="spacingAndGlyphs" font-family="Liberation Sans" fill="#151515">儲液罐</text>
<text transform="translate(478.7,318.3) rotate(-90)" text-anchor="middle" font-size="5.5" textLength="20.7" lengthAdjust="spacingAndGlyphs" font-family="Liberation Serif" font-style="italic" fill="#5a5a5a">reservoir</text>
<text transform="translate(555,340.3) rotate(-90)" text-anchor="middle" font-size="6" textLength="32.5" lengthAdjust="spacingAndGlyphs" font-family="Liberation Sans" fill="#151515">1號電動泵浦</text>
<text transform="translate(562.3,341.4) rotate(-90)" text-anchor="middle" font-size="5.5" textLength="39" lengthAdjust="spacingAndGlyphs" font-family="Liberation Serif" font-style="italic" fill="#5a5a5a">electric pump #1</text>
<text transform="translate(493.5,417.2) rotate(-90)" text-anchor="middle" font-size="6" textLength="91.5" lengthAdjust="spacingAndGlyphs" font-family="Liberation Sans" fill="#151515">散熱器（冷卻風扇沒有展示出來）</text>
<text transform="translate(500.3,414) rotate(-90)" text-anchor="middle" font-size="5.5" textLength="77.5" lengthAdjust="spacingAndGlyphs" font-family="Liberation Serif" font-style="italic" fill="#5a5a5a">radiator (cooling fans not shown)</text>
<text transform="translate(630.8,268) rotate(-90)" text-anchor="middle" font-size="6" textLength="34.7" lengthAdjust="spacingAndGlyphs" font-family="Liberation Sans" fill="#151515">DC/DC轉換器</text>
<text transform="translate(638.5,265.5) rotate(-90)" text-anchor="middle" font-size="5.5" textLength="41.7" lengthAdjust="spacingAndGlyphs" font-family="Liberation Serif" font-style="italic" fill="#5a5a5a">DC/DC converter</text>
<text transform="translate(584,397) rotate(-90)" text-anchor="middle" font-size="6" textLength="17.5" lengthAdjust="spacingAndGlyphs" font-family="Liberation Sans" fill="#151515">逆變器</text>
<text transform="translate(590.5,397) rotate(-90)" text-anchor="middle" font-size="5.5" textLength="17.5" lengthAdjust="spacingAndGlyphs" font-family="Liberation Serif" font-style="italic" fill="#5a5a5a">inverter</text>
<text transform="translate(643.5,396.7) rotate(-90)" text-anchor="middle" font-size="6" textLength="24" lengthAdjust="spacingAndGlyphs" font-family="Liberation Sans" fill="#151515">驅動馬達</text>
<text transform="translate(651,396.6) rotate(-90)" text-anchor="middle" font-size="5.5" textLength="33" lengthAdjust="spacingAndGlyphs" font-family="Liberation Serif" font-style="italic" fill="#5a5a5a">traction motor</text>
<text transform="translate(739,271.6) rotate(-90)" text-anchor="middle" font-size="5.6" textLength="42.4" lengthAdjust="spacing" font-family="Liberation Sans" font-weight="bold" fill="#222">馬達冷卻系統</text>
<text transform="translate(739,309) rotate(-90)" text-anchor="middle" font-size="5.5" textLength="18" lengthAdjust="spacingAndGlyphs" font-family="Liberation Sans" font-weight="bold" fill="#fff">圖2-10</text>
</svg>
<div class="abs" style="left:398px;top:452px;font-family:'Liberation Serif',serif;font-size:28px;line-height:36px;color:#dae3ee;letter-spacing:0px">三民網路書店</div>
<svg width="800" height="562" style="position:absolute;left:0;top:0"><text x="397" y="500" font-family="Liberation Sans" font-size="15.5" fill="#d3deea" textLength="168" lengthAdjust="spacingAndGlyphs">www.sanmin.com.tw</text></svg>
<svg width="800" height="562" style="position:absolute;left:0;top:0;z-index:6"><g fill="none" stroke="#d9e5f2" stroke-width="6" opacity="0.55"><path d="M250,499 L250,495 A40,40 0 0 1 330,495 L330,499"/><path d="M260,499 L260,495 A30,30 0 0 1 320,495 L320,499"/><path d="M270,499 L270,495 A20,20 0 0 1 310,495 L310,499"/><path d="M308,499 L308,495 A40,40 0 0 1 388,495 L388,499"/><path d="M318,499 L318,495 A30,30 0 0 1 378,495 L378,499"/><path d="M328,499 L328,495 A20,20 0 0 1 368,495 L368,499"/></g></svg>
</body></html>
